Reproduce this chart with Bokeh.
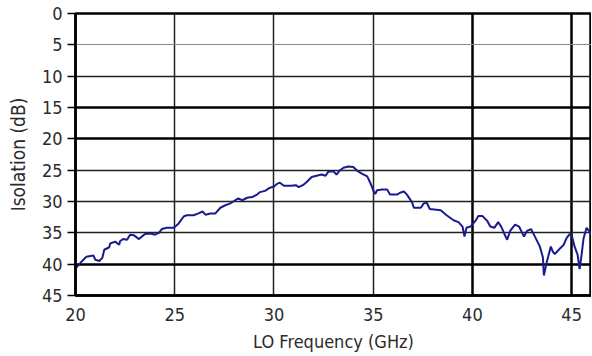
from bokeh.plotting import figure
from bokeh.models import Range1d, FixedTicker, Grid
from bokeh.embed import file_html
from bokeh.resources import INLINE

# ---- data ----
freq_ghz = [20.05, 20.25, 20.4, 20.55, 20.9, 21.0, 21.2, 21.35, 21.45, 21.7, 21.75, 22.0,
            22.2, 22.25, 22.4, 22.6, 22.75, 22.95, 23.2, 23.35, 23.5, 23.8, 24.0, 24.2,
            24.35, 24.6, 24.95, 25.1, 25.2, 25.45, 25.6, 25.95, 26.2, 26.4, 26.55, 26.8,
            27.05, 27.3, 27.55, 27.8, 27.95, 28.2, 28.4, 28.65, 28.9, 29.15, 29.3, 29.55,
            29.8, 30.0, 30.15, 30.3, 30.5, 30.85, 31.1, 31.25, 31.5, 31.65, 31.9, 32.15,
            32.4, 32.6, 32.75, 33.0, 33.15, 33.3, 33.5, 33.75, 34.0, 34.2, 34.45, 34.7,
            34.85, 35.0, 35.1, 35.2, 35.45, 35.7, 35.85, 36.2, 36.35, 36.55, 36.7, 36.95,
            37.05, 37.4, 37.55, 37.7, 37.85, 38.4, 38.7, 39.05, 39.3, 39.5, 39.6, 39.7,
            39.9, 40.15, 40.3, 40.5, 40.75, 40.9, 41.1, 41.3, 41.45, 41.6, 41.75, 41.9,
            42.15, 42.35, 42.6, 42.75, 42.95, 43.15, 43.4, 43.55, 43.6, 43.75, 43.95, 44.05,
            44.15, 44.35, 44.6, 44.75, 44.9, 45.0, 45.15, 45.3, 45.4, 45.5, 45.6, 45.75,
            45.85, 46.0]
isolation_db = [40.5, 39.8, 39.3, 38.8, 38.6, 39.3, 39.5, 39.0, 37.7, 37.3, 36.7, 36.4,
                36.9, 36.3, 36.0, 36.1, 35.3, 35.4, 36.0, 35.6, 35.2, 35.1, 35.3, 35.0,
                34.4, 34.2, 34.2, 33.8, 33.5, 32.4, 32.2, 32.2, 31.9, 31.6, 32.1, 31.9,
                31.9, 31.0, 30.6, 30.3, 30.0, 29.5, 29.8, 29.4, 29.3, 28.9, 28.5, 28.3,
                27.8, 27.6, 27.2, 27.0, 27.5, 27.5, 27.4, 27.7, 27.3, 26.9, 26.1, 25.9,
                25.7, 25.9, 25.2, 25.2, 25.7, 25.1, 24.6, 24.4, 24.5, 25.1, 25.6, 26.0,
                27.0, 28.2, 28.8, 28.2, 28.1, 28.1, 28.9, 28.9, 28.6, 28.4, 28.9, 30.1,
                31.0, 31.0, 30.3, 30.2, 31.2, 31.4, 32.2, 33.0, 33.3, 34.0, 35.6, 34.2,
                34.0, 33.1, 32.3, 32.3, 33.1, 34.0, 34.2, 33.3, 34.0, 35.1, 36.1, 34.7,
                33.7, 34.0, 35.6, 34.7, 34.4, 35.6, 37.2, 38.9, 41.8, 39.6, 37.2, 38.0,
                38.4, 37.7, 36.9, 35.8, 35.2, 35.4, 37.2, 38.5, 40.8, 38.5, 35.9, 34.2,
                34.6, 35.4]

x_ticks = [20, 25, 30, 35, 40, 45]
y_ticks = [0, 5, 10, 15, 20, 25, 30, 35, 40, 45]
x_grid_medium = [25, 30, 35]
x_grid_thick = [40, 45]
y_grid_thin = [5]
y_grid_medium = [10, 25, 30, 35]
y_grid_thick = [15, 20, 40]

FONT = "'DejaVu Sans Condensed', sans-serif"
TEXT = "#2b2b2b"

p = figure(width=591, height=354, output_backend="svg", toolbar_location=None,
           x_range=Range1d(20, 46), y_range=Range1d(45, 0),
           min_border_left=75, min_border_top=13, min_border_right=0, min_border_bottom=58)
p.grid.visible = False
p.background_fill_color = "white"
p.border_fill_color = "white"
p.outline_line_color = "black"
p.outline_line_width = 2.5

def add_grid(dim, ticks, width, color):
    g = Grid(dimension=dim, ticker=FixedTicker(ticks=ticks),
             grid_line_color=color, grid_line_width=width)
    p.add_layout(g)

add_grid(0, x_grid_medium, 1.5, "#202020")
add_grid(0, x_grid_thick, 2.5, "black")
add_grid(1, y_grid_thin, 1, "#8a8a8a")
add_grid(1, y_grid_medium, 1.5, "#202020")
add_grid(1, y_grid_thick, 2.5, "black")

p.line(freq_ghz, isolation_db, line_color="#1b1b8f", line_width=2)

xa = p.xaxis[0]
xa.ticker = FixedTicker(ticks=x_ticks)
xa.axis_label = "LO Frequency (GHz)"
xa.axis_line_color = "black"
xa.axis_line_width = 2.5
xa.major_tick_out = 0
xa.major_tick_in = 0
xa.minor_tick_out = 0
xa.minor_tick_in = 0
xa.major_label_standoff = 12
xa.axis_label_standoff = 7

ya = p.yaxis[0]
ya.ticker = FixedTicker(ticks=y_ticks)
ya.axis_label = "Isolation (dB)"
ya.axis_line_color = "black"
ya.axis_line_width = 2.5
ya.major_tick_out = 8
ya.major_tick_in = 0
ya.major_tick_line_width = 1.5
ya.major_tick_line_color = "black"
ya.minor_tick_out = 0
ya.minor_tick_in = 0
ya.major_label_standoff = 5
ya.axis_label_standoff = 10

for ax in (xa, ya):
    ax.major_label_text_font = FONT
    ax.major_label_text_font_size = "18px"
    ax.major_label_text_color = TEXT
    ax.axis_label_text_font = FONT
    ax.axis_label_text_font_size = "18px"
    ax.axis_label_text_font_style = "normal"
    ax.axis_label_text_color = TEXT
ya.axis_label_text_font_size = "19px"

open("out.html", "w").write(file_html(p, INLINE))
